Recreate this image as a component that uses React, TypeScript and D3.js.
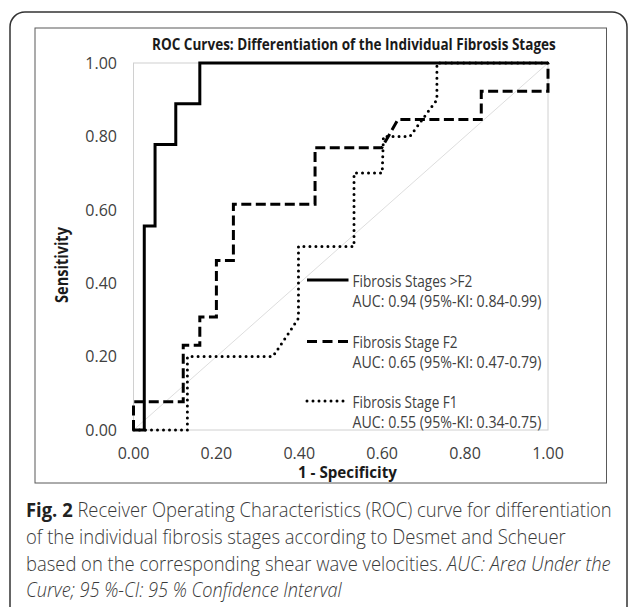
import React, { useEffect, useRef } from "react";
import * as d3 from "d3";

// ROC curves: [1 - specificity, sensitivity]
const stagesAboveF2: [number, number][] = [
  [0, 0], [0.026, 0], [0.026, 0.556], [0.052, 0.556], [0.052, 0.778],
  [0.102, 0.778], [0.102, 0.889], [0.16, 0.889], [0.16, 1], [1, 1],
];
const stageF2: [number, number][] = [
  [0, 0], [0, 0.077], [0.12, 0.077], [0.12, 0.231], [0.16, 0.231],
  [0.16, 0.308], [0.2, 0.308], [0.2, 0.462], [0.241, 0.462], [0.241, 0.615],
  [0.438, 0.615], [0.438, 0.769], [0.599, 0.769], [0.638, 0.846],
  [0.839, 0.846], [0.839, 0.923], [1, 0.923], [1, 1],
];
const stageF1: [number, number][] = [
  [0, 0], [0.13, 0], [0.13, 0.2], [0.336, 0.2], [0.378, 0.27], [0.398, 0.305],
  [0.398, 0.5], [0.532, 0.5], [0.532, 0.7], [0.6, 0.7], [0.603, 0.8],
  [0.667, 0.8], [0.732, 0.9], [0.732, 1], [1, 1],
];

const axisTicks = [0, 0.2, 0.4, 0.6, 0.8, 1];

const legendNames = ["Fibrosis Stages >F2", "Fibrosis Stage F2", "Fibrosis Stage F1"];
const legendAuc = [
  "AUC: 0.94 (95%-KI: 0.84-0.99)",
  "AUC: 0.65 (95%-KI: 0.47-0.79)",
  "AUC: 0.55 (95%-KI: 0.34-0.75)",
];

const chartTitle = "ROC Curves: Differentiation of the Individual Fibrosis Stages";
const xTitle = "1 - Specificity";
const yTitle = "Sensitivity";

// caption lines, each a list of [text, style]
const captionLines: [string, string][][] = [
  [["Fig. 2", "bold"], [" Receiver Operating Characteristics (ROC) curve for differentiation", "normal"]],
  [["of the individual fibrosis stages according to Desmet and Scheuer", "normal"]],
  [["based on the corresponding shear wave velocities. ", "normal"], ["AUC: Area Under the", "italic"]],
  [["Curve; 95 %-CI: 95 % Confidence Interval", "italic"]],
];

const App = () => {
  const ref = useRef<SVGSVGElement>(null);

  useEffect(() => {
    if (!ref.current) return;
    const svg = d3.select(ref.current);
    svg.selectAll("*").remove();

    const font = "'Open Sans', sans-serif";
    const x = d3.scaleLinear().domain([0, 1]).range([133.5, 548]);
    const y = d3.scaleLinear().domain([0, 1]).range([430, 63]);

    // squeeze a text horizontally to the width it has in the figure
    const squeeze = (sel: any, tx: number, ty: number, w: number, rotate = 0) => {
      const len = (sel.node() as SVGTextElement).getComputedTextLength();
      const sx = len > 0 ? w / len : 1;
      sel.attr("x", 0).attr("y", 0)
        .attr("transform", `translate(${tx},${ty}) rotate(${rotate}) scale(${sx},1)`);
    };

    // frames
    svg.append("rect")
      .attr("x", 10).attr("y", 12).attr("width", 617).attr("height", 640)
      .attr("rx", 15).attr("fill", "#fff")
      .attr("stroke", "#333").attr("stroke-width", 1.5);
    svg.append("rect")
      .attr("x", 35).attr("y", 28).attr("width", 571.5).attr("height", 455)
      .attr("fill", "#fff").attr("stroke", "#595959").attr("stroke-width", 1);

    // plot area border
    svg.append("rect")
      .attr("x", x(0)).attr("y", y(1))
      .attr("width", x(1) - x(0)).attr("height", y(0) - y(1))
      .attr("fill", "none").attr("stroke", "#d0d0d0").attr("stroke-width", 1);

    // reference diagonal
    svg.append("line")
      .attr("x1", x(0)).attr("y1", y(0)).attr("x2", x(1)).attr("y2", y(1))
      .attr("stroke", "#d4d4d4").attr("stroke-width", 0.8);

    const line = d3.line<[number, number]>().x(d => x(d[0])).y(d => y(d[1]));

    const styles = [
      { dash: null, cap: "butt" },
      { dash: "10 4.5", cap: "butt" },
      { dash: "0 6", cap: "round" },
    ];
    const curves = [stagesAboveF2, stageF2, stageF1];

    [2, 1, 0].forEach(i => {
      svg.append("path")
        .attr("d", line(curves[i]))
        .attr("fill", "none")
        .attr("stroke", "#000")
        .attr("stroke-width", 3)
        .attr("stroke-linejoin", "miter")
        .attr("stroke-linecap", styles[i].cap)
        .attr("stroke-dasharray", styles[i].dash);
    });

    // tick labels
    const fmt = d3.format(".2f");
    svg.append("g").selectAll("text").data(axisTicks).join("text")
      .attr("x", 117).attr("y", d => y(d) + 5.8)
      .attr("text-anchor", "end")
      .attr("font-family", font).attr("font-size", 16).attr("fill", "#404040")
      .text(d => fmt(d));
    svg.append("g").selectAll("text").data(axisTicks).join("text")
      .attr("x", d => x(d)).attr("y", 458.8)
      .attr("text-anchor", "middle")
      .attr("font-family", font).attr("font-size", 16).attr("fill", "#404040")
      .text(d => fmt(d));

    // titles
    const title = svg.append("text")
      .attr("font-family", font).attr("font-size", 16.5).attr("font-weight", 700)
      .attr("fill", "#1a1a1a")
      .text(chartTitle);
    squeeze(title, 152, 49.5, 404);
    const xt = svg.append("text")
      .attr("font-family", font).attr("font-size", 16).attr("font-weight", 700)
      .attr("fill", "#1a1a1a")
      .text(xTitle);
    squeeze(xt, 298, 477.5, 99);
    const yt = svg.append("text")
      .attr("text-anchor", "middle")
      .attr("font-family", font).attr("font-size", 17).attr("font-weight", 700)
      .attr("fill", "#1a1a1a")
      .text(yTitle);
    squeeze(yt, 68, 265, 76, -90);

    // legend
    const legendY = [280, 341.5, 401];
    const nameWidths = [120, 105, 105];
    const lg = svg.append("g");
    legendNames.forEach((name, i) => {
      lg.append("line")
        .attr("x1", 307).attr("x2", 348.5)
        .attr("y1", legendY[i]).attr("y2", legendY[i])
        .attr("stroke", "#000").attr("stroke-width", 3)
        .attr("stroke-linecap", styles[i].cap)
        .attr("stroke-dasharray", i === 1 ? "10 5.5" : styles[i].dash);
      const n = lg.append("text")
        .attr("font-family", font).attr("font-size", 16.5).attr("fill", "#404040")
        .text(name);
      squeeze(n, 352.5, legendY[i] + 6.5, nameWidths[i]);
      const a = lg.append("text")
        .attr("font-family", font).attr("font-size", 16.5).attr("fill", "#404040")
        .text(legendAuc[i]);
      squeeze(a, 352.5, legendY[i] + 26.8, 189);
    });

    // caption
    const capBase = [517.3, 544, 570.7, 596.8];
    const capWidths = [586, 540, 585, 316];
    captionLines.forEach((parts, i) => {
      const t = svg.append("text")
        .attr("font-family", font).attr("font-size", 19.5).attr("font-weight", 300)
        .attr("fill", "#3a3a3a");
      parts.forEach(([txt, st]) => {
        t.append("tspan")
          .attr("font-weight", st === "bold" ? 700 : 300)
          .attr("font-style", st === "italic" ? "italic" : "normal")
          .attr("fill", st === "bold" ? "#222" : "#3a3a3a")
          .text(txt);
      });
      squeeze(t, 26, capBase[i], capWidths[i]);
    });
  }, []);

  return (
    <svg
      ref={ref}
      width={629}
      height={607}
      style={{ position: "absolute", left: 0, top: 0, background: "#fff" }}
    />
  );
};

export default App;
